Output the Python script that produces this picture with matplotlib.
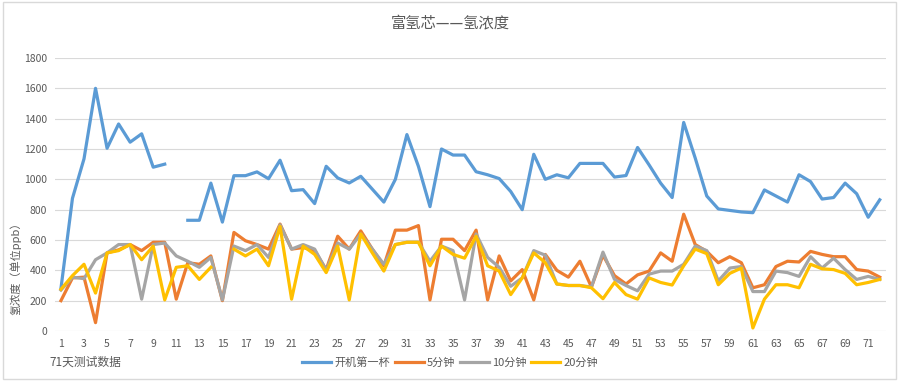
import numpy as np
import matplotlib.pyplot as plt
from matplotlib.patches import Rectangle

plt.rcParams['font.family'] = ['Noto Sans CJK SC', 'DejaVu Sans']

days = np.arange(1, 73)

# 开机第一杯 (day 11 missing)
first_cup = [280, 875, 1135, 1600, 1205, 1365, 1245, 1300, 1080, 1100,
             np.nan, 730, 730, 975, 718, 1024, 1024, 1049, 1004, 1126,
             925, 932, 840, 1086, 1009, 976, 1020, 935, 850, 1000,
             1295, 1085, 820, 1200, 1160, 1160, 1050, 1030, 1005, 920,
             800, 1165, 1000, 1030, 1010, 1105, 1105, 1105, 1015, 1025,
             1210, 1095, 975, 880, 1375, 1140, 890, 805, 795, 785,
             780, 930, 890, 850, 1030, 985, 870, 880, 975, 905,
             750, 865]
min5 = [200, 350, 355, 55, 515, 535, 570, 530, 585, 585,
        210, 450, 440, 495, 200, 650, 595, 570, 540, 705,
        540, 550, 530, 405, 625, 540, 660, 540, 430, 665,
        665, 695, 205, 605, 605, 530, 665, 205, 495, 330,
        405, 205, 505, 400, 355, 460, 290, 500, 365, 310,
        370, 395, 515, 460, 770, 570, 525, 450, 490, 450,
        285, 305, 425, 460, 455, 525, 505, 490, 490, 405,
        395, 355]
min10 = [270, 355, 345, 470, 515, 570, 570, 210, 570, 580,
         495, 460, 420, 485, 205, 560, 530, 570, 485, 700,
         540, 570, 540, 400, 580, 540, 640, 540, 440, 570,
         585, 585, 460, 560, 530, 205, 640, 485, 420, 295,
         350, 530, 500, 310, 300, 300, 290, 520, 340, 300,
         265, 375, 395, 395, 440, 560, 530, 330, 415, 425,
         260, 260, 395, 385, 360, 490, 415, 480, 405, 340,
         360, 340]
min20 = [275, 365, 440, 250, 515, 530, 570, 470, 560, 205,
         420, 430, 340, 420, np.nan, 540, 495, 540, 430, 690,
         210, 560, 505, 385, 560, 205, 640, 515, 395, 570,
         585, 585, 430, 560, 505, 480, 625, 430, 395, 240,
         350, 515, 450, 310, 300, 300, 285, 213, 320, 240,
         210, 350, 320, 303, 430, 540, 510, 305, 380, 415,
         20, 210, 305, 305, 285, 440, 410, 405, 380, 305,
         320, 340]

series = [("开机第一杯", first_cup, "#5B9BD5"),
          ("5分钟", min5, "#ED7D31"),
          ("10分钟", min10, "#A5A5A5"),
          ("20分钟", min20, "#FFC000")]

fig = plt.figure(figsize=(9, 3.82), dpi=100)
fig.patches.append(Rectangle((0.003, 0.008), 0.992, 0.987, transform=fig.transFigure,
                             fill=False, edgecolor="#D9D9D9", lw=1))
ax = fig.add_axes([0.0613, 0.1335, 0.9226, 0.7147])

for name, vals, col in series:
    ax.plot(days, vals, color=col, lw=2.3, label=name, solid_joinstyle="round")

ax.set_xlim(0.5, 72.5)
ax.set_ylim(0, 1800)
ax.set_yticks(np.arange(0, 1801, 200))
ax.set_xticks(days[::2])
ax.grid(axis="y", color="#D9D9D9", lw=0.8)
ax.set_axisbelow(True)
for s in ax.spines.values():
    s.set_visible(False)
ax.tick_params(length=0, labelsize=7.5, colors="#595959", pad=6)

fig.text(0.5, 0.94, "富氢芯——氢浓度", ha="center", va="center", fontsize=11, color="#595959")
fig.text(0.017, 0.305, "氢浓度（单位ppb）", rotation=90, ha="center", va="center",
         fontsize=8, color="#595959")
fig.text(0.055, 0.052, "71天测试数据", ha="left", va="center", fontsize=8.5, color="#595959")

fig.legend(loc="center", bbox_to_anchor=(0.5, 0.052), ncol=4, frameon=False,
           fontsize=8, handlelength=2.6, handletextpad=0.3, columnspacing=0.4,
           labelcolor="#595959")

fig.savefig("out.png", dpi=100)
